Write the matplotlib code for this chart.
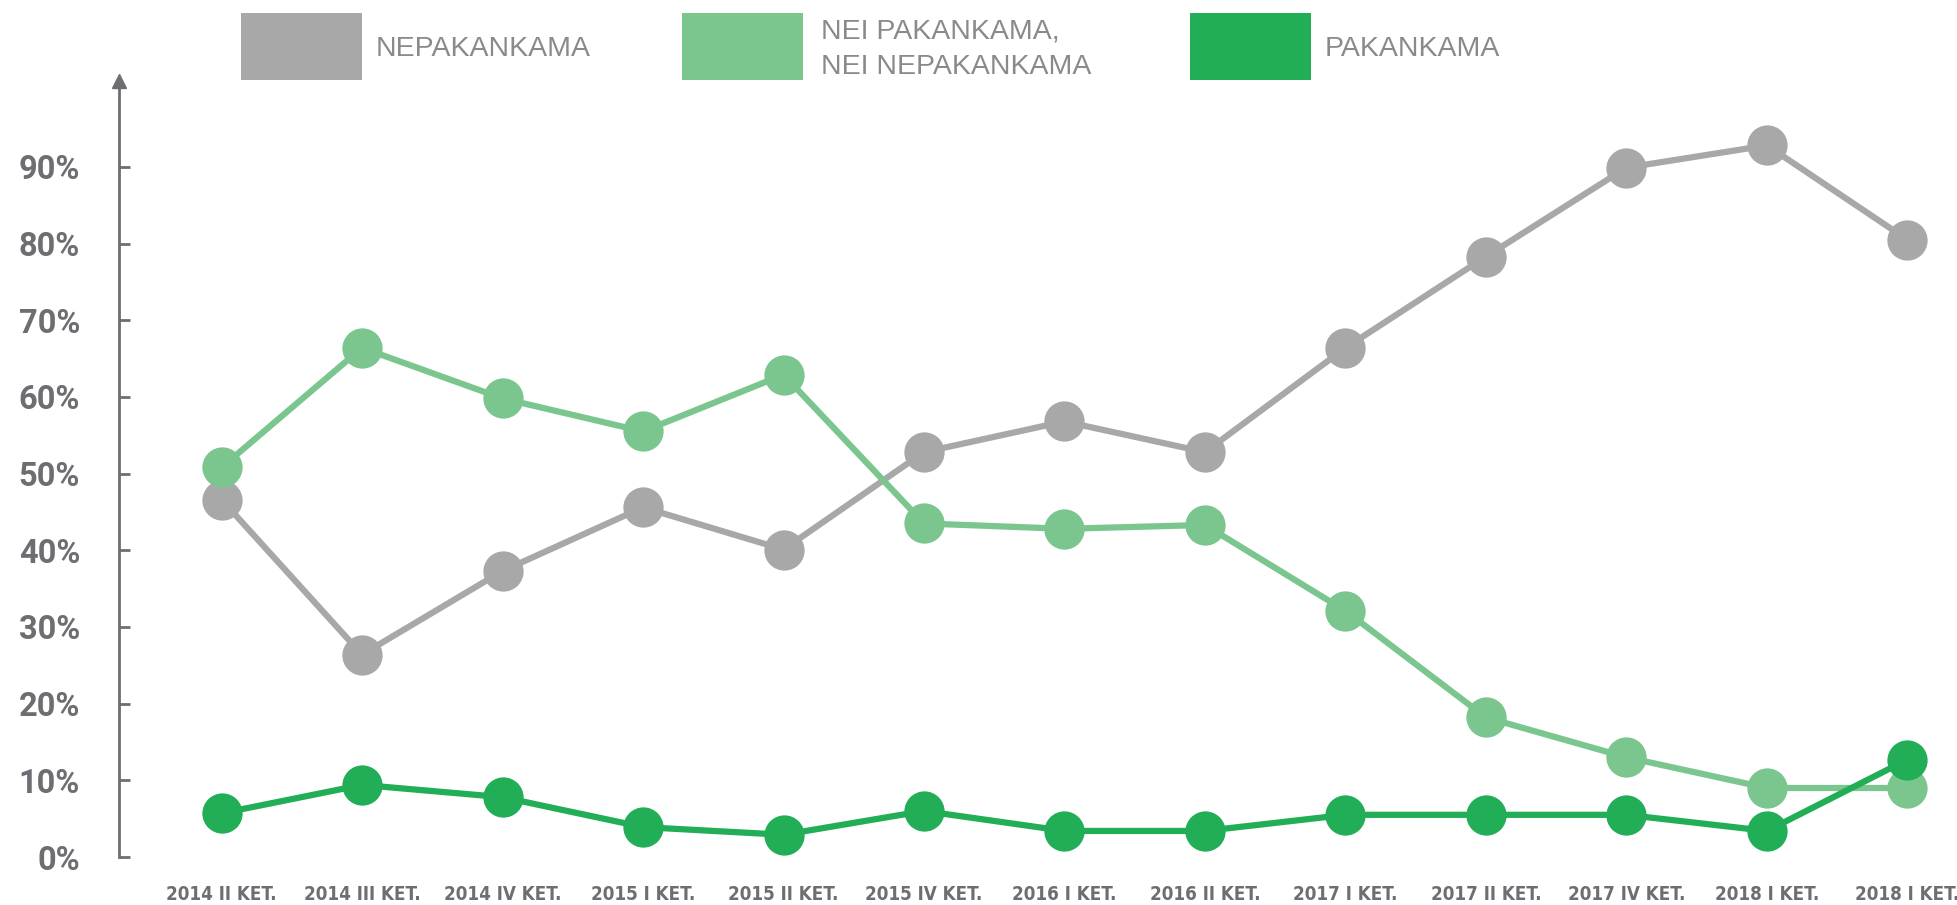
import matplotlib
matplotlib.use("Agg")
import matplotlib.pyplot as plt
from matplotlib.patches import Rectangle

# ---- data ----
categories = ["2014 II KET.", "2014 III KET.", "2014 IV KET.", "2015 I KET.",
              "2015 II KET.", "2015 IV KET.", "2016 I KET.", "2016 II KET.",
              "2017 I KET.", "2017 II KET.", "2017 IV KET.", "2018 I KET.",
              "2018 I KET."]
nepakankama = [46.6, 26.4, 37.3, 45.6, 40.1, 52.8, 56.8, 52.8, 66.4, 78.3, 89.9, 92.8, 80.5]
nei_nei = [50.8, 66.4, 59.8, 55.5, 62.9, 43.5, 42.8, 43.3, 32.1, 18.2, 13.0, 9.0, 9.0]
pakankama = [5.7, 9.4, 7.8, 3.9, 2.9, 6.0, 3.4, 3.4, 5.5, 5.5, 5.5, 3.4, 12.7]
series_names = ["NEPAKANKAMA", "NEI PAKANKAMA,\nNEI NEPAKANKAMA", "PAKANKAMA"]
y_ticks = [0, 10, 20, 30, 40, 50, 60, 70, 80, 90]

colors = ["#a8a8a8", "#7bc68e", "#22ad57"]
tick_col = "#6d6e71"

W, H = 1958, 905
fig = plt.figure(figsize=(W / 100, H / 100), dpi=100)
left = 119 / W
bottom = 1 - 857 / H
top = 1 - 81 / H
ax = fig.add_axes([left, bottom, 1 - left, top - bottom])

x = list(range(len(categories)))
for vals, c in zip([nepakankama, nei_nei, pakankama], colors):
    ax.plot(x, vals, color=c, lw=4.5, marker="o", markersize=29,
            markeredgewidth=0, solid_capstyle="round", zorder=3, clip_on=False)

ax.set_xlim(-0.73, 12.36)
ax.set_ylim(0, 101.2)

for s in ["top", "right", "bottom"]:
    ax.spines[s].set_visible(False)
ax.spines["left"].set_color(tick_col)
ax.spines["left"].set_linewidth(2)

ax.set_yticks(y_ticks)
ax.set_yticklabels([f"{v}%" for v in y_ticks])
ax.tick_params(axis="y", direction="in", length=8, width=2, color=tick_col,
               labelsize=23.5, labelcolor=tick_col, pad=28)
for lab in ax.get_yticklabels():
    lab.set_fontfamily(["Roboto", "DejaVu Sans"])
    lab.set_fontweight("bold")

ax.set_xticks(x)
ax.set_xticklabels(categories)
ax.tick_params(axis="x", length=0, labelsize=13.5, labelcolor=tick_col, pad=20)
for lab in ax.get_xticklabels():
    lab.set_fontfamily("DejaVu Sans")
    lab.set_fontstretch("condensed")
    lab.set_fontweight("bold")

# arrow at top of y-axis
ax.plot([0], [1.0], marker="^", markersize=10, color=tick_col,
        transform=ax.transAxes, clip_on=False)

# legend (manual)
box_x = [241, 682, 1190]
text_x = [376, 821, 1325]
for bx, tx, c, name in zip(box_x, text_x, colors, series_names):
    fig.add_artist(Rectangle((bx / W, 1 - 80 / H), 121 / W, 67 / H,
                             transform=fig.transFigure, color=c, lw=0))
    fig.text(tx / W, 1 - 49 / H, name, ha="left", va="center", fontsize=20.5,
             color="#8a8a8a", family=["Liberation Sans", "DejaVu Sans"],
             linespacing=1.45)

fig.savefig("out.png", dpi=100)
